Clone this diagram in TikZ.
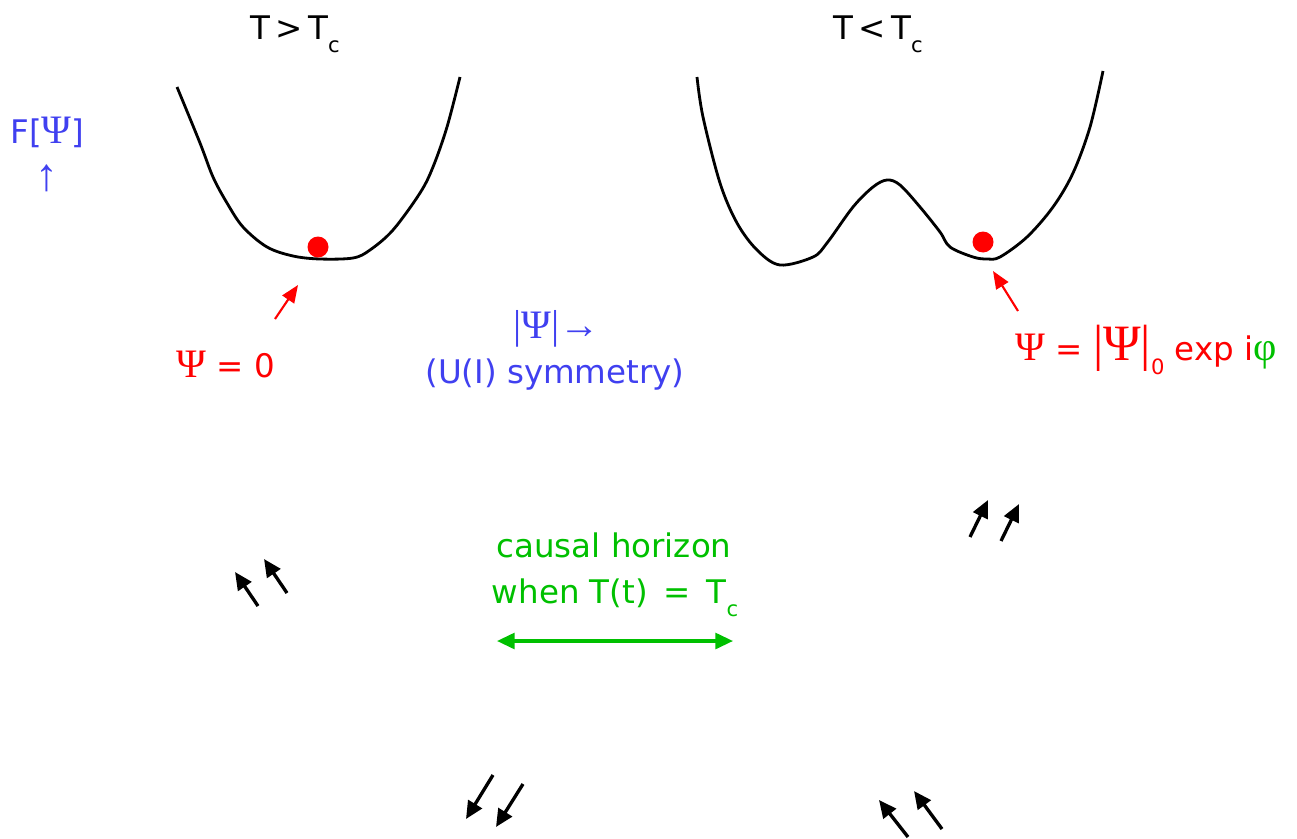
\documentclass[tikz,border=0pt]{standalone}
\usepackage{fontspec}
\setmainfont{DejaVu Sans}
\newfontfamily\grk{Liberation Serif}
\usepackage{xcolor}
\usetikzlibrary{arrows.meta}
\definecolor{cRed}{HTML}{FF0000}
\definecolor{cGreen}{HTML}{00C000}
\definecolor{cBlue}{HTML}{4040F0}
\newcommand{\lowc}{\raisebox{-0.4em}{\fontsize{12}{12}\selectfont c}}
\newcommand{\Psy}{{\grk\fontsize{23}{24}\selectfont Ψ}}

\begin{document}
\begin{tikzpicture}[x=0.02cm, y=-0.02cm,
  every node/.style={inner sep=0pt, font=\fontsize{18.5}{22}\selectfont},
  well/.style={line width=1.6pt, smooth, tension=0.55},
  ball/.style={circle, fill=cRed, minimum size=0.42cm},
  pointer/.style={-{Triangle[length=10pt,width=8pt]}, cRed, line width=1.2pt},
  flow/.style={-{Triangle[length=10pt,width=9pt]}, line width=1.9pt},
  horizon/.style={{Triangle[length=10pt,width=9pt]}-{Triangle[length=10pt,width=9pt]}, cGreen, line width=1.8pt},
]
\useasboundingbox (0,0) rectangle (1297,838);

% potential wells
\draw[well] plot coordinates {(177,87) (200,143) (213,177) (227,203) (243,227) (267,247) (293,256) (320,259) (353,258) (370,250) (393,230) (420,193) (433,167) (447,127) (460,77)};
\draw[well] plot coordinates {(697,77) (703,117) (720,183) (737,223) (757,250) (780,265) (813,257) (827,243) (853,207) (873,187) (887,180) (900,185) (920,207) (940,232) (950,247) (973,257) (987,259) (1000,257) (1027,237) (1053,207) (1073,173) (1090,127) (1103,71)};

\node[ball] (ballA) at (318,247) {};
\node[ball] (ballB) at (983,242) {};

\node[anchor=base] (tHigh) at (295,40) {T\,>\,T\lowc};
\node[anchor=base] (tLow) at (878,40) {T\,<\,T\lowc};

\node[anchor=base west, cBlue] (free) at (10,143) {F[\Psy]};
\node[anchor=base, cBlue, font=\grk\fontsize{26}{26}\selectfont] (freeUp) at (47,190) {↑};

\node[anchor=base, cBlue, font=\grk\fontsize{23}{26}\selectfont] (modulus) at (557,338) {|Ψ|→};
\node[anchor=base, cBlue] (symm) at (555,383) {(U(I) symmetry)};

\node[anchor=base, cRed] (zero) at (226,377) {\Psy{} = 0};
\node[anchor=base west, cRed] (order) at (1015,360) {\Psy{} = {\grk\fontsize{29}{29}\selectfont |Ψ|}\raisebox{-0.45em}{\fontsize{12}{12}\selectfont 0} exp i{\color{cGreen}\grk\fontsize{23}{24}\selectfont φ}};

\coordinate (pA) at (275,319);
\coordinate (pAtip) at (298,285);
\coordinate (pB) at (1018,311);
\coordinate (pBtip) at (993,271);
\draw[pointer] (pA) -- (pAtip);
\draw[pointer] (pB) -- (pBtip);

% causal horizon
\node[anchor=base, cGreen] (caus) at (614,557) {causal horizon};
\node[anchor=base, cGreen] (when) at (615,603) {when T(t)\, =\, T\lowc};
\coordinate (hL) at (497,641);
\coordinate (hR) at (733,641);
\draw[horizon] (hL) -- (hR);

% domains
\foreach \tx/\ty/\hx/\hy [count=\i] in {258/606/235/572, 287/593/264/559, 970/537/988/500, 1001/541/1019/504, 493/775/466/819, 523/784/496/827, 908/837/879/800, 942/829/914/791}
{
  \coordinate (fT\i) at (\tx,\ty);
  \coordinate (fH\i) at (\hx,\hy);
  \draw[flow] (fT\i) -- (fH\i);
}

\end{tikzpicture}
\end{document}
